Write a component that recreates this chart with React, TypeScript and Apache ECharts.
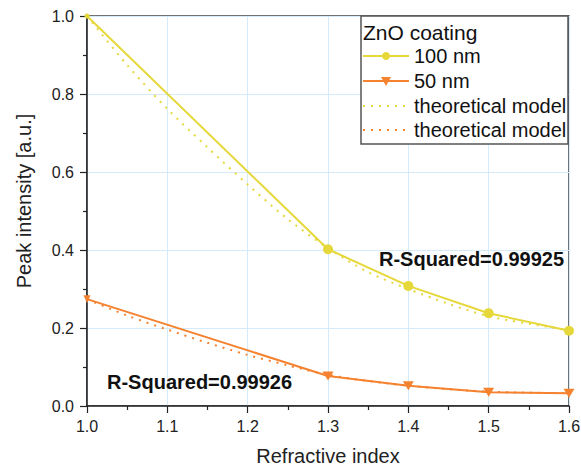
import React, { useEffect, useRef } from "react";
import * as echarts from "echarts";

const FONT = "Liberation Sans, Arial, sans-serif";
const YELLOW = "#e6d83a";
const ORANGE = "#f5822f";

const xMeasured = [1.0, 1.3, 1.4, 1.5, 1.6];
const values100 = [1.0, 0.402, 0.308, 0.238, 0.193];
const values50 = [0.274, 0.077, 0.052, 0.035, 0.033];

const xModel = [1.0, 1.05, 1.1, 1.15, 1.2, 1.25, 1.3, 1.35, 1.4, 1.45, 1.5, 1.55, 1.6];
const model100 = [1.0, 0.874, 0.762, 0.663, 0.568, 0.479, 0.405, 0.343, 0.3, 0.262, 0.23, 0.211, 0.195];
const model50 = [0.274, 0.232, 0.196, 0.162, 0.131, 0.104, 0.08, 0.064, 0.052, 0.043, 0.037, 0.034, 0.033];

const legendTitle = "ZnO coating";
const legendLabels = ["100 nm", "50 nm", "theoretical model", "theoretical model"];
const rSquared = ["R-Squared=0.99925", "R-Squared=0.99926"];

const zip = (xs: number[], ys: number[]) => xs.map((x, i) => [x, ys[i]]);

// marker at the plot corner is clipped in the original, so draw it smaller
const withEdgeMarker = (xs: number[], ys: number[], edgeSize: number | number[]) =>
  xs.map((x, i) => (i === 0 ? { value: [x, ys[i]], symbolSize: edgeSize } : [x, ys[i]]));

export default function App() {
  const ref = useRef<HTMLDivElement>(null);
  useEffect(() => {
    if (!ref.current) return;
    const chart = echarts.init(ref.current, undefined, { renderer: "svg" });

    const lx0 = 363;
    const lx1 = 409;
    const lxm = (lx0 + lx1) / 2;
    const rows = [56, 81, 106, 130];
    const rowColors = [YELLOW, ORANGE, YELLOW, ORANGE];

    const legendGraphics: any[] = [
      {
        type: "rect",
        z: 10,
        shape: { x: 361, y: 16, width: 207, height: 128 },
        style: { fill: "#ffffff", stroke: "#555", lineWidth: 1.5 },
      },
      {
        type: "text",
        z: 11,
        x: 363,
        y: 32,
        style: {
          text: legendTitle,
          fontFamily: FONT,
          fontSize: 21,
          fill: "#111",
          verticalAlign: "middle",
        },
      },
    ];
    rows.forEach((y, i) => {
      const dotted = i >= 2;
      legendGraphics.push({
        type: "line",
        z: 11,
        shape: { x1: lx0, y1: y, x2: lx1, y2: y },
        style: {
          stroke: rowColors[i],
          lineWidth: 2,
          lineDash: dotted ? [2, 6] : null,
        },
      });
      if (i === 0) {
        legendGraphics.push({
          type: "circle",
          z: 12,
          shape: { cx: lxm, cy: y, r: 4 },
          style: { fill: YELLOW },
        });
      } else if (i === 1) {
        legendGraphics.push({
          type: "polygon",
          z: 12,
          shape: { points: [[lxm - 5, y - 4], [lxm + 5, y - 4], [lxm, y + 5]] },
          style: { fill: ORANGE },
        });
      }
      legendGraphics.push({
        type: "text",
        z: 11,
        x: 414,
        y: y,
        style: {
          text: legendLabels[i],
          fontFamily: FONT,
          fontSize: 20,
          fill: "#111",
          verticalAlign: "middle",
        },
      });
    });

    chart.setOption({
      animation: false,
      backgroundColor: "#ffffff",
      grid: {
        left: 87,
        right: 12,
        top: 16,
        bottom: 61,
        show: true,
        borderColor: "#444",
        borderWidth: 1.5,
        backgroundColor: "transparent",
        containLabel: false,
        outerBoundsMode: "none",
      },
      xAxis: {
        type: "value",
        min: 1.0,
        max: 1.6,
        interval: 0.1,
        name: "Refractive index",
        nameLocation: "middle",
        nameGap: 40,
        nameTextStyle: { fontFamily: FONT, fontSize: 20, color: "#222" },
        axisLine: { show: true, onZero: false, lineStyle: { color: "#222", width: 1.5 } },
        axisTick: { show: true, length: 7, lineStyle: { color: "#222", width: 1.2 } },
        minorTick: { show: true, splitNumber: 2, length: 4, lineStyle: { color: "#222", width: 1.2 } },
        splitLine: { show: true, lineStyle: { color: "#d3ebfa", width: 1 } },
        axisLabel: {
          fontFamily: FONT,
          fontSize: 16,
          color: "#222",
          margin: 12,
          formatter: (v: number) => v.toFixed(1),
        },
      },
      yAxis: {
        type: "value",
        min: 0,
        max: 1.0,
        interval: 0.2,
        axisLine: { show: true, onZero: false, lineStyle: { color: "#222", width: 1.5 } },
        axisTick: { show: true, length: 7, lineStyle: { color: "#222", width: 1.2 } },
        minorTick: { show: true, splitNumber: 2, length: 4, lineStyle: { color: "#222", width: 1.2 } },
        splitLine: { show: true, lineStyle: { color: "#d3ebfa", width: 1 } },
        axisLabel: {
          fontFamily: FONT,
          fontSize: 16,
          color: "#222",
          margin: 13,
          formatter: (v: number) => v.toFixed(1),
        },
      },
      graphic: [
        ...legendGraphics,
        {
          type: "text",
          z: 11,
          x: 24,
          y: 201,
          rotation: Math.PI / 2,
          style: {
            text: "Peak intensity [a.u.]",
            fontFamily: FONT,
            fontSize: 20,
            fill: "#222",
            align: "center",
            verticalAlign: "middle",
          },
        },
        {
          type: "text",
          z: 11,
          x: 379,
          y: 259,
          style: {
            text: rSquared[0],
            fontFamily: FONT,
            fontSize: 20,
            fontWeight: "bold",
            fill: "#111",
            verticalAlign: "middle",
          },
        },
        {
          type: "text",
          z: 11,
          x: 107,
          y: 382,
          style: {
            text: rSquared[1],
            fontFamily: FONT,
            fontSize: 20,
            fontWeight: "bold",
            fill: "#111",
            verticalAlign: "middle",
          },
        },
      ],
      series: [
        {
          name: "theoretical model (100 nm)",
          type: "line",
          data: zip(xModel, model100),
          smooth: 0.3,
          symbol: "none",
          lineStyle: { color: YELLOW, width: 2, type: [2, 6] },
          itemStyle: { color: YELLOW },
          z: 2,
        },
        {
          name: "theoretical model (50 nm)",
          type: "line",
          data: zip(xModel, model50),
          smooth: 0.3,
          symbol: "none",
          lineStyle: { color: ORANGE, width: 2, type: [2, 6] },
          itemStyle: { color: ORANGE },
          z: 2,
        },
        {
          name: "100 nm",
          type: "line",
          data: withEdgeMarker(xMeasured, values100, 5),
          symbol: "circle",
          symbolSize: 10,
          lineStyle: { color: YELLOW, width: 2 },
          itemStyle: { color: YELLOW },
          z: 3,
        },
        {
          name: "50 nm",
          type: "line",
          data: withEdgeMarker(xMeasured, values50, [7, 8]),
          symbol: "triangle",
          symbolRotate: 180,
          symbolSize: [11, 9],
          lineStyle: { color: ORANGE, width: 2 },
          itemStyle: { color: ORANGE },
          z: 3,
        },
      ],
    });
    return () => chart.dispose();
  }, []);
  return <div ref={ref} style={{ width: 581, height: 467, position: "absolute", left: 0, top: 0 }} />;
}
